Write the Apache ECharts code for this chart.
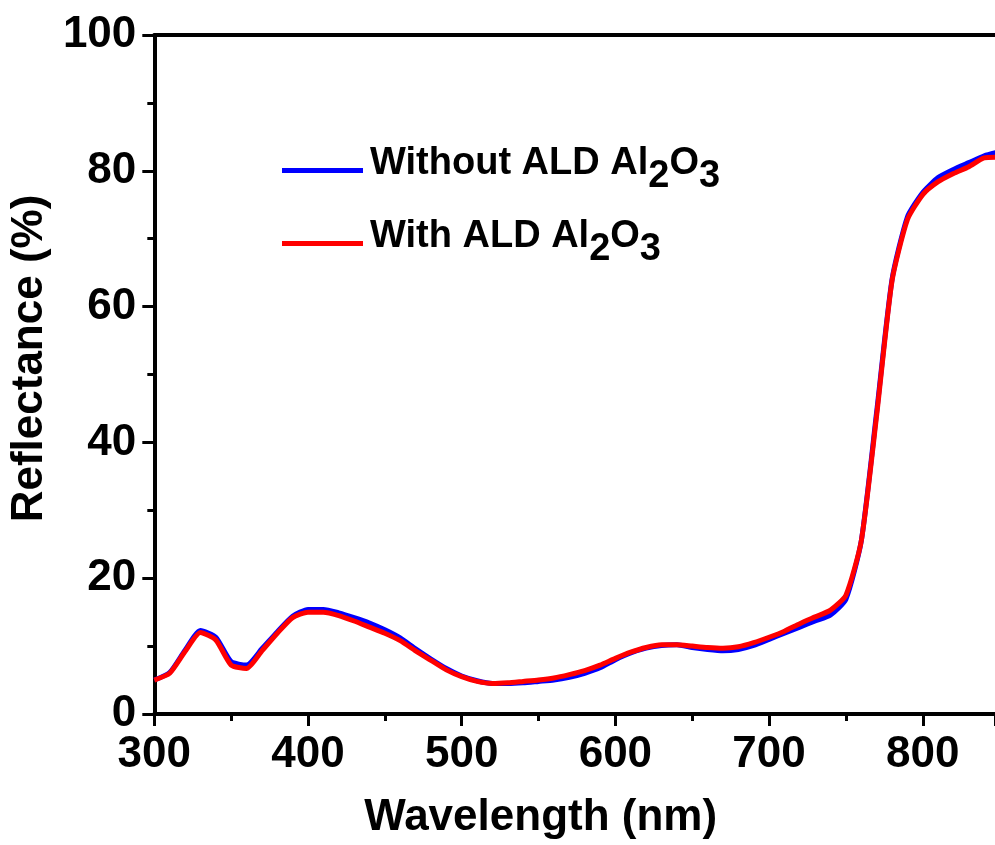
<!DOCTYPE html>
<html>
<head>
<meta charset="utf-8">
<script src="https://cdn.jsdelivr.net/npm/echarts@6/dist/echarts.min.js"></script>
<style>
  html, body { margin: 0; padding: 0; background: #fff; }
  #main { width: 995px; height: 845px; }
</style>
</head>
<body>
<div id="main"></div>
<script>
// wavelength (nm), every 10 nm
var wavelength = [300,310,320,330,340,350,360,370,380,390,400,410,420,430,440,450,460,470,480,490,
  500,510,520,530,540,550,560,570,580,590,600,610,620,630,640,650,660,670,680,690,
  700,710,720,730,740,750,760,770,780,790,800,810,820,830,840,850];
// reflectance (%), without ALD Al2O3
var withoutALD = [5.0,6.1,9.4,12.3,11.3,7.7,7.2,9.6,12.1,14.4,15.4,15.4,14.9,14.2,13.4,12.4,11.2,9.6,8.1,6.7,
  5.6,4.9,4.5,4.5,4.6,4.8,5.0,5.4,6.0,6.8,8.0,9.0,9.7,10.1,10.2,9.8,9.5,9.3,9.5,10.1,
  11.0,11.9,12.8,13.7,14.6,16.9,25.5,44.5,64.0,73.2,76.8,79.0,80.2,81.2,82.2,82.8];
// reflectance (%), with ALD Al2O3
var withALD = [5.0,6.0,9.2,12.0,10.9,7.2,6.7,9.3,11.9,14.2,15.0,15.0,14.5,13.7,12.8,11.9,10.8,9.3,7.9,6.5,
  5.5,4.8,4.5,4.6,4.8,5.0,5.3,5.8,6.4,7.2,8.2,9.1,9.8,10.2,10.2,10.0,9.8,9.7,9.9,10.5,
  11.3,12.2,13.3,14.3,15.3,17.5,25.5,44.0,63.8,72.8,76.5,78.4,79.6,80.6,81.9,82.0];
var xTicks = [300, 847, 100];
var yTicks = [0, 100, 20];

var FONT = 'Liberation Sans';

function pairs(xs, ys){
	var out = [];
	for(var i = 0; i < xs.length; i++){ out.push([xs[i], ys[i]]); }
	return out;
}

var legendRich = {
	m: { fontFamily: FONT, fontWeight: 'bold', fontSize: 38, color: '#000', verticalAlign: 'top', padding: [0,0,0,0] },
	s: { fontFamily: FONT, fontWeight: 'bold', fontSize: 38, color: '#000', verticalAlign: 'top', padding: [13,0,0,0] }
};

var axisCommon = {
	axisLine: { lineStyle: { color: '#000', width: 4 } },
	axisTick: { inside: false, length: 12, lineStyle: { color: '#000', width: 3 } },
	minorTick: { show: true, splitNumber: 2, length: 7, lineStyle: { color: '#000', width: 3 } },
	splitLine: { show: false }
};

var chart = echarts.init(document.getElementById('main'));
chart.setOption({
	backgroundColor: '#fff',
	animation: false,
	grid: { left: 152, top: 35, width: 845, height: 682, containLabel: false },
	legend: {
		orient: 'vertical',
		left: 277,
		top: 140,
		icon: 'rect',
		itemWidth: 81,
		itemHeight: 5,
		itemGap: 22,
		data: ['Without ALD Al2O3', 'With ALD Al2O3'],
		formatter: function(name){
			var base = name.replace('Al2O3', 'Al');
			return '{m|' + base + '}{s|2}{m|O}{s|3}';
		},
		textStyle: { rich: legendRich, padding: [0,0,0,2] }
	},
	xAxis: [Object.assign({
		type: 'value', min: xTicks[0], max: xTicks[1], interval: xTicks[2],
		name: 'Wavelength (nm)', nameLocation: 'middle', nameGap: 82,
		nameTextStyle: { fontFamily: FONT, fontWeight: 'bold', fontSize: 44, color: '#000', padding: [0,68,0,0] },
		axisLabel: { fontFamily: FONT, fontWeight: 'bold', fontSize: 44, color: '#000', margin: 19, showMaxLabel: false }
	}, axisCommon), {
		type: 'value', position: 'top', min: xTicks[0], max: xTicks[1],
		axisLine: { show: true, onZero: false, lineStyle: { color: '#000', width: 4 } },
		axisTick: { show: false }, axisLabel: { show: false }, splitLine: { show: false }
	}],
	yAxis: Object.assign({
		type: 'value', min: yTicks[0], max: yTicks[1], interval: yTicks[2],
		name: 'Reflectance (%)', nameLocation: 'middle', nameGap: 94,
		nameTextStyle: { fontFamily: FONT, fontWeight: 'bold', fontSize: 44, color: '#000', padding: [0,0,0,32] },
		axisLabel: { fontFamily: FONT, fontWeight: 'bold', fontSize: 44, color: '#000', margin: 18 }
	}, axisCommon),
	series: [{
		name: 'Without ALD Al2O3',
		type: 'line',
		data: pairs(wavelength, withoutALD),
		symbol: 'none',
		smooth: 0.2,
		clip: true,
		color: '#0000ff',
		lineStyle: { color: '#0000ff', width: 5 }
	}, {
		name: 'With ALD Al2O3',
		type: 'line',
		data: pairs(wavelength, withALD),
		symbol: 'none',
		smooth: 0.2,
		clip: true,
		color: '#ff0000',
		lineStyle: { color: '#ff0000', width: 5 }
	}]
});
</script>
</body>
</html>
